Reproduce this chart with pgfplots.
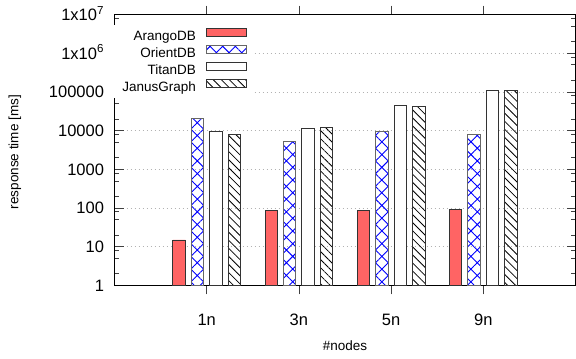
\documentclass[border=0pt]{standalone}
\usepackage{fontspec}
\setmainfont{Liberation Sans}
\usepackage{pgfplots}
\pgfplotsset{compat=1.18}
\usetikzlibrary{patterns.meta}
\definecolor{arango}{RGB}{255,100,100}
\begin{document}
\begin{tikzpicture}
\pgfplotsset{mylegend/.style={legend image code/.code={\draw[##1,line width=0.9bp] (0bp,0bp) rectangle (40bp,7.8bp);}}}
\begin{axis}[
  scale only axis, width=461bp, height=271bp,
  ymode=log, ymin=1, ymax=1e7,
  xmin=-1, xmax=4,
  xtick={0,1,2,3}, xticklabels={1n,3n,5n,9n},
  ytick={1,10,100,1000,10000,100000,1000000,10000000},
  yticklabels={1,10,100,1000,10000,100000,1x10\textsuperscript{6},1x10\textsuperscript{7}},
  minor ytick={2,5,8,20,50,80,200,500,800,2000,5000,8000,20000,50000,80000,200000,500000,800000,2000000,5000000,8000000},
  ticklabel style={font=\fontsize{16.5bp}{19bp}\selectfont},
  xticklabel style={anchor=base, yshift=-31.4bp},
  yticklabel style={anchor=base east, yshift=-5.9bp, xshift=-7bp},
  label style={font=\fontsize{13.5bp}{16bp}\selectfont},
  xlabel={\#nodes},
  xlabel style={at={(rel axis cs:0.5,-0.2387)}, anchor=base},
  ymajorgrids,
  grid style={gray!60, line width=0.8bp, dash pattern=on 1bp off 3bp},
  tick style={black!75, line width=0.8bp},
  major tick length=9bp, minor tick length=4.5bp,
  axis line style={line width=1bp},
  ybar, bar width=0.135,
  legend plot pos=right,
  legend cell align=right,
  legend style={at={(rel axis cs:0.3004,0.961)}, anchor=north east, draw=none, fill=white,
    font=\fontsize{13.5bp}{16bp}\selectfont, inner xsep=6bp, inner ysep=3bp,
    row sep=1.2bp, column sep=8bp},
  clip=false,
]
\addplot[bar shift=0pt, fill=arango, draw=black!80, line width=0.9bp, mylegend] coordinates {(-0.3,15) (0.7,88) (1.7,88) (2.7,92)};
\addplot[bar shift=0pt, pattern={Hatch[angle=45,distance=9bp,line width=0.9bp]}, pattern color=blue, draw=black!60, line width=0.9bp, mylegend] coordinates {(-0.1,20700) (0.9,5130) (1.9,9550) (2.9,8130)};
\addplot[bar shift=0pt, fill=white, draw=black!80, line width=0.9bp, mylegend] coordinates {(0.1,9700) (1.1,11600) (2.1,43800) (3.1,111000)};
\addplot[bar shift=0pt, pattern={Lines[angle=-45,distance=5.7bp,line width=0.8bp]}, pattern color=black, draw=black!80, line width=0.9bp, mylegend] coordinates {(0.3,8130) (1.3,12100) (2.3,42900) (3.3,111000)};
\legend{ArangoDB,OrientDB,TitanDB,JanusGraph}
\node[rotate=90, anchor=center, font=\fontsize{13.5bp}{16bp}\selectfont] at (rel axis cs:-0.216,0.492) {response time [ms]};
\coordinate (bl) at (rel axis cs:0,0);
\coordinate (tr) at (rel axis cs:1,1);
\end{axis}
\pgfresetboundingbox
\path[use as bounding box] ([shift={(-114.5bp,-72.7bp)}]bl) rectangle ([shift={(0.5bp,14.5bp)}]tr);
\end{tikzpicture}
\end{document}
